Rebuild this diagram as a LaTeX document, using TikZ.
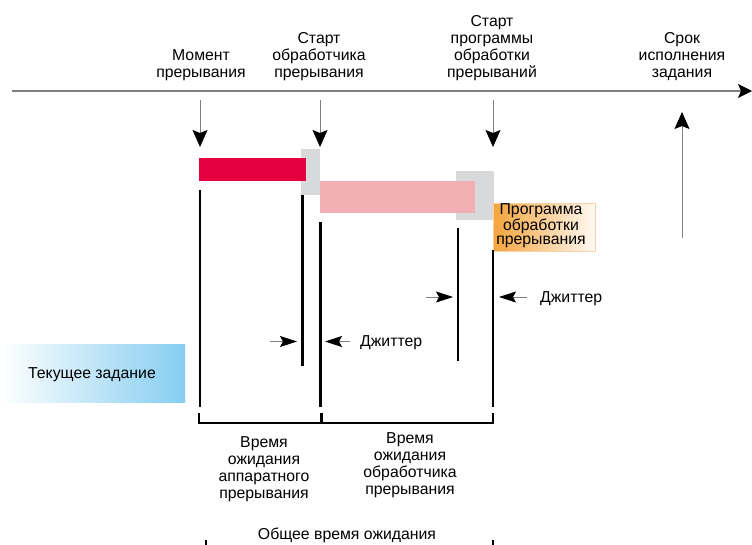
\documentclass[tikz,border=0pt]{standalone}
\usepackage{fontspec}
\setmainfont{Liberation Sans}
\usetikzlibrary{arrows.meta}
\definecolor{redbar}{HTML}{E4003F}
\definecolor{pinkbar}{HTML}{F2AFB3}
\definecolor{graybox}{HTML}{D8D9DB}
\definecolor{skyb}{HTML}{84CDF0}
\definecolor{orangeb}{HTML}{F4A43C}
\definecolor{orangeline}{HTML}{F8D2A6}
\definecolor{axisgray}{HTML}{7F7F7F}
\begin{document}
\begin{tikzpicture}[x=1pt,y=-1pt,
  lbl/.style={align=center, font=\fontsize{15.8}{17}\selectfont, inner sep=0pt, anchor=base},
  thick line/.style={line width=2.4pt, black},
  down arrow/.style={draw=axisgray, line width=0.9pt, -{Stealth[length=17pt, width=15pt, inset=3pt, color=black]}},
  jit arrow/.style={draw=axisgray, line width=0.7pt, -{Stealth[length=17pt, width=11pt, inset=3pt, color=black]}}]
\path[use as bounding box, fill=white] (0,0) rectangle (752,544);

% time axis
\coordinate (axL) at (12,91);
\coordinate (axR) at (752,91);
\draw[axisgray, line width=1.2pt, -{Stealth[length=14pt, width=14pt, inset=3pt, color=black]}] (axL) -- (axR);

% labels on top (anchor = baseline of last line)
\node[lbl] (l1) at (201,77) {Момент\\прерывания};
\node[lbl] (l2) at (319,77) {Старт\\обработчика\\прерывания};
\node[lbl] (l3) at (492,77) {Старт\\программы\\обработки\\прерываний};
\node[lbl] (l4) at (682,77) {Срок\\исполнения\\задания};

% arrows
\coordinate (a1s) at (200,100); \coordinate (a1e) at (200,147);
\coordinate (a2s) at (320,100); \coordinate (a2e) at (320,147);
\coordinate (a3s) at (493,100); \coordinate (a3e) at (493,147);
\coordinate (a4s) at (682,238); \coordinate (a4e) at (682,112);
\draw[down arrow] (a1s) -- (a1e);
\draw[down arrow] (a2s) -- (a2e);
\draw[down arrow] (a3s) -- (a3e);
\draw[down arrow] (a4s) -- (a4e);

% bars
\fill[graybox] (301,149) rectangle (320,195);
\fill[redbar] (199,158) rectangle (306,181);
\fill[graybox] (456,171) rectangle (494,220);
\fill[pinkbar] (320,181) rectangle (475,213);
\shade[left color=orangeb, right color=white!94!orangeb] (493,203) rectangle (595,251);
\draw[orangeline, line width=0.5pt] (493,203) rectangle (595,251);
\node[align=center, font=\fontsize{15.8}{13.6}\selectfont, inner sep=0pt, anchor=base] (prog) at (541,244) {Программа\\обработки\\прерывания};

% current task
\shade[left color=white, right color=skyb] (0,344) rectangle (185,402);
\node[lbl] (task) at (92,378) {Текущее задание};

% vertical lines
\coordinate (v1t) at (200,190); \coordinate (v1b) at (200,407);
\coordinate (v2t) at (302.5,195); \coordinate (v2b) at (302.5,366);
\coordinate (v3t) at (320.5,222); \coordinate (v3b) at (320.5,407);
\coordinate (v4t) at (458,228); \coordinate (v4b) at (458,361);
\coordinate (v5t) at (493,250); \coordinate (v5b) at (493,407);
\draw[thick line] (v1t) -- (v1b);
\draw[thick line] (v2t) -- (v2b);
\draw[thick line] (v3t) -- (v3b);
\draw[thick line] (v4t) -- (v4b);
\draw[thick line] (v5t) -- (v5b);

% jitter
\coordinate (j1a) at (270,341.5); \coordinate (j1b) at (297,341.5);
\coordinate (j2a) at (350,341.5); \coordinate (j2b) at (325,341.5);
\draw[jit arrow] (j1a) -- (j1b);
\draw[jit arrow] (j2a) -- (j2b);
\node[lbl, anchor=base west] (jt1) at (360,346) {Джиттер};
\coordinate (j3a) at (426,297); \coordinate (j3b) at (453,297);
\coordinate (j4a) at (527,297); \coordinate (j4b) at (499,297);
\draw[jit arrow] (j3a) -- (j3b);
\draw[jit arrow] (j4a) -- (j4b);
\node[lbl, anchor=base west] (jt2) at (540,302) {Джиттер};

% bracket
\coordinate (bL) at (199,423); \coordinate (bM) at (321.5,423); \coordinate (bR) at (493,423);
\draw[thick line] (199,413) -- (bL) -- (bR) -- (493,413);
\draw[thick line] (bM) -- (321.5,413);

\node[lbl] (w1) at (264,498) {Время\\ожидания\\аппаратного\\прерывания};
\node[lbl] (w2) at (410,494) {Время\\ожидания\\обработчика\\прерывания};

\node[lbl] (tot) at (347,539) {Общее время ожидания};
\draw[thick line] (206,540) -- (206,546);
\draw[thick line] (493,540) -- (493,546);
\end{tikzpicture}
\end{document}
